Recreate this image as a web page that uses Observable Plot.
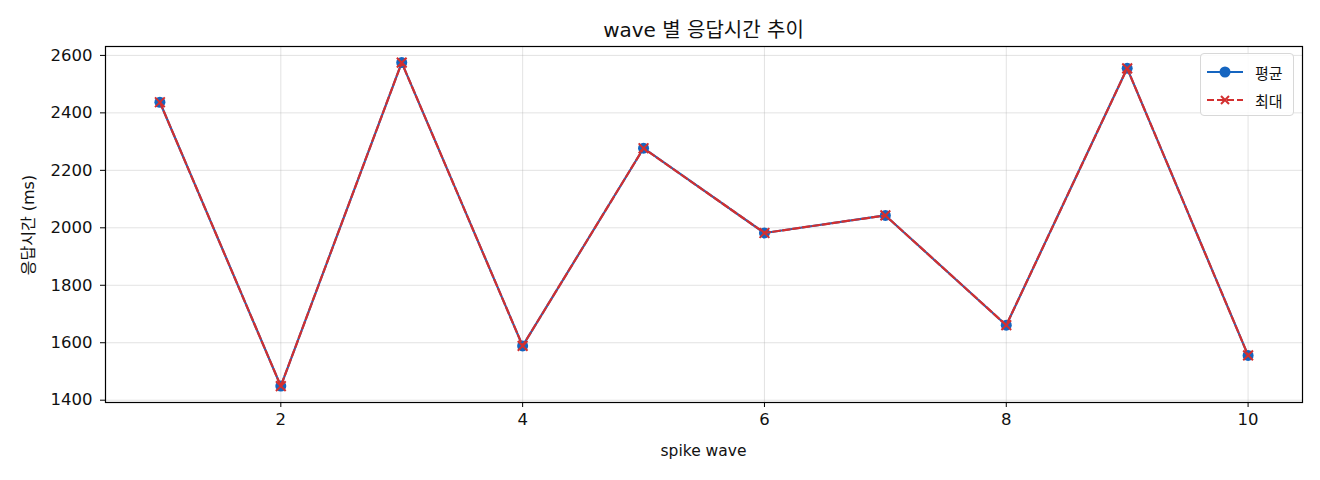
<!DOCTYPE html>
<html><head><meta charset="utf-8">
<script src="https://cdn.jsdelivr.net/npm/d3@7"></script>
<script src="https://cdn.jsdelivr.net/npm/@observablehq/plot@0.6"></script>
<style>
body{margin:0;background:#fff;font-family:"DejaVu Sans","Noto Sans CJK KR",sans-serif}
#wrap{position:relative;width:1320px;height:480px}
#legend{position:absolute;left:1200px;top:53px;width:94px;height:63px;box-sizing:border-box;border:1px solid #d8d8d8;border-radius:4px;background:rgba(255,255,255,0.85);font-size:15px;color:#111}
#legend .row{position:absolute;left:5px;height:20px;display:flex;align-items:center}
#legend .row span{margin-left:11px}
</style>
</head><body><div id="wrap"><div id="legend"></div></div>
<script>
const waves = [1, 2, 3, 4, 5, 6, 7, 8, 9, 10];
const avgMs = [2437, 1449, 2575, 1589, 2277, 1982, 2043, 1661, 2555, 1556];
const maxMs = [2437, 1449, 2575, 1589, 2277, 1982, 2043, 1661, 2555, 1556];
const xTicks = [2, 4, 6, 8, 10];
const yTicks = [1400, 1600, 1800, 2000, 2200, 2400, 2600];
const seriesNames = ["평균", "최대"];
const colors = ["#1565C0", "#D32F2F"];
const title = "wave 별 응답시간 추이";
const xLabel = "spike wave";
const yLabel = "응답시간 (ms)";

const rows = waves.map((w, i) => ({wave: w, avg: avgMs[i], max: maxMs[i]}));
const font = '"DejaVu Sans","Noto Sans CJK KR",sans-serif';

const chart = Plot.plot({
  width: 1320, height: 480,
  marginLeft: 105, marginRight: 18, marginTop: 46, marginBottom: 78,
  style: {fontFamily: font, fontSize: "16.5px", color: "#111", background: "#fff"},
  x: {domain: [0.55, 10.45]},
  y: {domain: [1392, 2631]},
  marks: [
    Plot.gridX(xTicks, {stroke: "#b0b0b0", strokeOpacity: 0.35}),
    Plot.gridY(yTicks, {stroke: "#b0b0b0", strokeOpacity: 0.35}),
    Plot.axisX(xTicks, {tickSize: 5, tickPadding: 6, stroke: "#000", label: null, tickFormat: d3.format("d")}),
    Plot.axisY(yTicks, {tickSize: 5, tickPadding: 8, stroke: "#000", label: null, tickFormat: d3.format("d")}),
    Plot.line(rows, {x: "wave", y: "avg", stroke: colors[0], strokeWidth: 2.2}),
    Plot.dot(rows, {x: "wave", y: "avg", fill: colors[0], r: 5.5}),
    Plot.line(rows, {x: "wave", y: "max", stroke: colors[1], strokeWidth: 2.2, strokeDasharray: "7,3"}),
    Plot.dot(rows, {x: "wave", y: "max", symbol: "times", stroke: colors[1], strokeWidth: 2, r: 4.5}),
    Plot.frame({stroke: "#000", strokeWidth: 1.2})
  ]
});
document.getElementById("wrap").prepend(chart);

const svg = d3.select(chart);
svg.append("text").attr("x", 703.5).attr("y", 30).attr("text-anchor", "middle").attr("dominant-baseline", "central")
  .attr("font-size", 20).attr("fill", "#111").text(title);
svg.append("text").attr("x", 703.5).attr("y", 451).attr("text-anchor", "middle").attr("dominant-baseline", "central")
  .attr("font-size", 15.5).attr("fill", "#111").text(xLabel);
svg.append("text").attr("transform", "translate(28,225) rotate(-90)").attr("text-anchor", "middle").attr("dominant-baseline", "central")
  .attr("font-size", 16).attr("fill", "#111").text(yLabel);

const legend = d3.select("#legend");
seriesNames.forEach((name, i) => {
  const row = legend.append("div").attr("class", "row").style("top", (8 + i * 28) + "px");
  const s = row.append("svg").attr("width", 38).attr("height", 14);
  s.append("line").attr("x1", 1).attr("x2", 37).attr("y1", 7).attr("y2", 7)
    .attr("stroke", colors[i]).attr("stroke-width", 2)
    .attr("stroke-dasharray", i === 1 ? "7,3" : null);
  if (i === 0) s.append("circle").attr("cx", 19).attr("cy", 7).attr("r", 5.5).attr("fill", colors[0]);
  else s.append("path").attr("d", "M15,3L23,11M23,3L15,11").attr("stroke", colors[1]).attr("stroke-width", 2);
  row.append("span").text(name);
});
</script>
</body></html>
